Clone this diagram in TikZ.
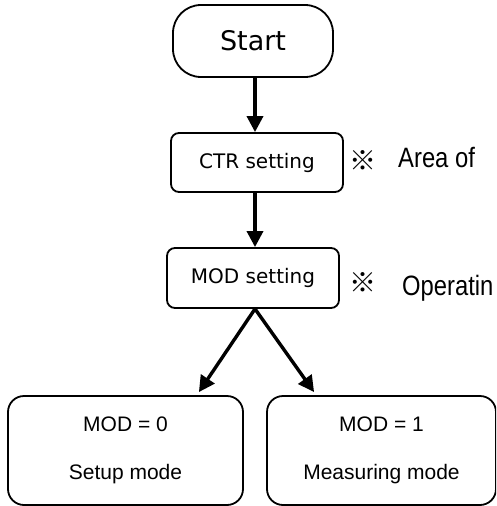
\documentclass[tikz,border=0pt]{standalone}
\usepackage{fontspec}
\usetikzlibrary{arrows.meta,calc}
\setmainfont{Liberation Sans}
\newfontfamily\flowfont{DejaVu Sans}
\newfontfamily\notefont[FakeStretch=0.85]{Liberation Sans}
\newfontfamily\markfont{Noto Sans CJK JP}

\begin{document}
\begin{tikzpicture}[x=1pt,y=-1pt,
  box/.style={draw, line width=1.8pt, inner sep=0pt, align=center},
  stepbox/.style={box, minimum width=172pt, minimum height=59pt, rounded corners=8pt,
    font=\flowfont\fontsize{20}{24}\selectfont},
  modebox/.style={box, minimum height=109pt, rounded corners=16pt,
    font=\fontsize{21}{48}\selectfont},
  flow/.style={line width=3.4pt, -{Triangle[length=16pt,width=16pt]}},
  note/.style={anchor=base west, inner sep=0pt, font=\notefont\fontsize{28}{30}\selectfont},
  refmark/.style={inner sep=0pt, font=\markfont\fontsize{27}{30}\selectfont},
]
\useasboundingbox (0,0) rectangle (496,506);
\clip (0,0) rectangle (496,506);

% flow boxes
\node[box, minimum width=160pt, minimum height=72pt, rounded corners=28pt,
  font=\flowfont\fontsize{27}{30}\selectfont] (start) at (253,41) {Start};
\node[stepbox] (ctr) at (257,162.5) {CTR setting};
\node[stepbox, minimum height=60pt] (mod) at (253,278) {MOD setting};
\node[modebox, minimum width=235pt] (setup) at (125.5,450.5) {MOD = 0\\Setup mode};
\node[modebox, minimum width=229pt] (meas) at (381.5,450.5) {MOD = 1\\Measuring mode};

% side notes
\node[refmark] (mark1) at (363,161) {※};
\node[note] (note1) at (398,167) {Area of};
\node[refmark] (mark2) at (363,283) {※};
\node[note] (note2) at (402,295) {Operatin};

% connectors
\coordinate (startfoot) at ($(start.south)+(2,0)$);
\coordinate (ctrhead) at ($(ctr.north)+(-2,0)$);
\coordinate (ctrfoot) at ($(ctr.south)+(-2,0)$);
\coordinate (modhead) at ($(mod.north)+(2,0)$);
\coordinate (modfoot) at ($(mod.south)+(2,0)$);
\coordinate (setuphead) at ($(setup.north east)+(-45,-3)$);
\coordinate (meashead) at ($(meas.north west)+(48,-3)$);
\draw[flow] (startfoot) -- (ctrhead);
\draw[flow] (ctrfoot) -- (modhead);
\draw[flow] (modfoot) -- (setuphead);
\draw[flow] (modfoot) -- (meashead);
\end{tikzpicture}
\end{document}
